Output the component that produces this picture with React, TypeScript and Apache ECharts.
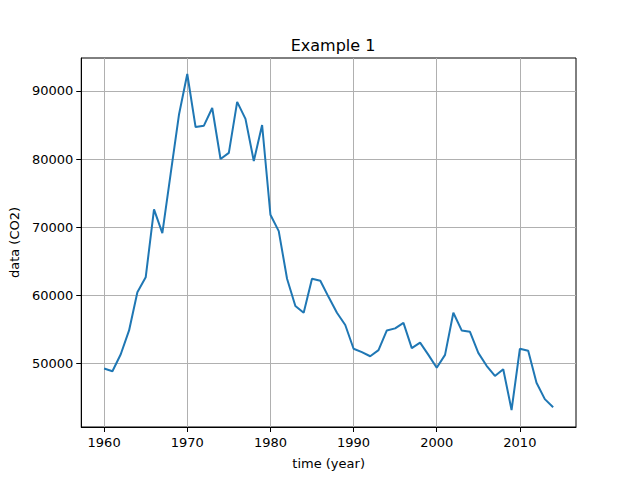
import * as echarts from "echarts";
import { useEffect, useRef } from "react";

const years = Array.from({ length: 55 }, (_, i) => 1960 + i);
const co2 = [
  49200, 48800, 51300, 54800, 60400, 62600, 72600, 69100, 77800, 86500,
  92500, 84700, 84900, 87500, 80000, 80900, 88400, 85900, 79700, 85000,
  71800, 69400, 62400, 58400, 57400, 62400, 62100, 59700, 57400, 55600,
  52100, 51600, 51000, 51900, 54800, 55100, 55900, 52200, 53000, 51200,
  49300, 51200, 57400, 54800, 54600, 51500, 49600, 48100, 49100, 43100,
  52100, 51800, 47100, 44700, 43500,
];
const xTicks = [1960, 1970, 1980, 1990, 2000, 2010];
const yTicks = [50000, 60000, 70000, 80000, 90000];

const font = "DejaVu Sans";

export default function App() {
  const ref = useRef<HTMLDivElement>(null);

  useEffect(() => {
    if (!ref.current) return;
    const chart = echarts.init(ref.current, undefined, { renderer: "svg" });
    const axisCommon = {
      axisLine: { show: true, onZero: false, lineStyle: { color: "#000", width: 1 } },
      axisTick: { show: true, inside: false, length: 5, lineStyle: { color: "#000" } },
      splitLine: { show: true, lineStyle: { color: "#b0b0b0", width: 1 } },
      nameLocation: "middle" as const,
      nameTextStyle: { fontFamily: font, fontSize: 13, color: "#000" },
    };
    const label = {
      fontFamily: font,
      fontSize: 13,
      color: "#000",
      formatter: (v: number) => String(v),
    };
    chart.setOption({
      animation: false,
      backgroundColor: "#fff",
      title: {
        text: "Example 1",
        left: 328,
        top: 32,
        textAlign: "center",
        textStyle: { fontFamily: font, fontSize: 16, fontWeight: "normal", color: "#000" },
      },
      grid: { left: 80, right: 64, top: 58, bottom: 53, show: true, borderColor: "#000", borderWidth: 1 },
      xAxis: {
        ...axisCommon,
        type: "value",
        min: 1957.25,
        max: 2016.75,
        name: "time (year)",
        nameGap: 30,
        axisTick: { ...axisCommon.axisTick, customValues: xTicks },
        axisLabel: { ...label, customValues: xTicks, margin: 9 },
      },
      yAxis: {
        ...axisCommon,
        type: "value",
        min: 40600,
        max: 94850,
        name: "data (CO2)",
        nameGap: 60,
        axisTick: { ...axisCommon.axisTick, customValues: yTicks },
        axisLabel: { ...label, customValues: yTicks, margin: 8 },
      },
      series: [
        {
          type: "line",
          data: years.map((y, i) => [y, co2[i]]),
          showSymbol: false,
          lineStyle: { color: "#1f77b4", width: 2 },
        },
      ],
    });
    return () => chart.dispose();
  }, []);

  return (
    <div style={{ position: "fixed", left: 0, top: 0 }}>
      <div ref={ref} style={{ width: 640, height: 480 }} />
    </div>
  );
}
